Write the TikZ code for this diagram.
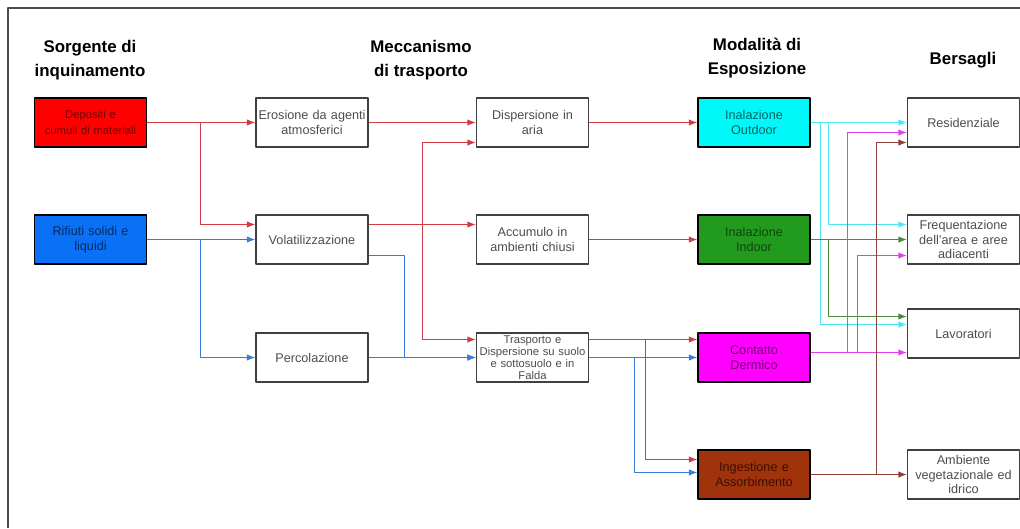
\documentclass[tikz,border=0pt]{standalone}
\usepackage{fontspec}
\setmainfont{Liberation Sans}
\usetikzlibrary{arrows.meta,calc}
\definecolor{rosso}{HTML}{FF0000}
\definecolor{blu}{HTML}{0A70F5}
\definecolor{ciano}{HTML}{00F8F8}
\definecolor{verde}{HTML}{229A1E}
\definecolor{magenta2}{HTML}{FF00FF}
\definecolor{marrone}{HTML}{A0320C}
\definecolor{lrosso}{HTML}{D23A44}
\definecolor{lblu}{HTML}{3A7AD8}
\definecolor{lciano}{HTML}{50E4F4}
\definecolor{lverde}{HTML}{4A8A3A}
\definecolor{lmagenta}{HTML}{E040E8}
\definecolor{lmarrone}{HTML}{8C4038}
\begin{document}
\begin{tikzpicture}[x=0.025cm,y=-0.025cm,>={Latex[length=6pt,width=4.5pt]},line join=round,
	box/.style={draw=black!75,line width=0.8pt,minimum width=2.8cm,minimum height=1.225cm,text width=2.7cm,inner sep=1pt,align=center,font=\fontsize{9}{11}\selectfont,text=black!70},
	header/.style={align=center,font=\fontsize{12}{17}\selectfont\bfseries},
	fr/.style={->,line width=0.8pt,color=lrosso},
	fb/.style={->,line width=0.8pt,color=lblu},
	fc/.style={->,line width=0.8pt,color=lciano},
	fv/.style={->,line width=0.8pt,color=lverde},
	fm/.style={->,line width=0.8pt,color=lmagenta},
	fn/.style={->,line width=0.8pt,color=lmarrone}]
	\useasboundingbox (0,0) rectangle (1020,528);
	% cornice
	\draw[black!70,line width=1.5pt] (8,528)--(8,8)--(1020,8);
	% titoli delle colonne
	\node[header] (h1) at (90,60) {Sorgente di\\inquinamento};
	\node[header] (h2) at (421,60) {Meccanismo\\di trasporto};
	\node[header] (h3) at (757,58) {Modalità di\\Esposizione};
	\node[header] (h4) at (963,60) {Bersagli};
	% sorgenti
	\node[box,fill=rosso,text=rosso!45!black,draw=black,font=\fontsize{8}{11}\selectfont] (src1) at (90.5,122.5) {Depositi e\\cumuli di materiali};
	\node[box,fill=blu,text=blu!40!black,draw=black] (src2) at (90.5,239.5) {Rifiuti solidi e\\liquidi};
	% meccanismi di trasporto
	\node[box] (eros) at (312,122.5) {Erosione da agenti\\atmosferici};
	\node[box] (vol) at (312,239.5) {Volatilizzazione};
	\node[box] (perc) at (312,357.5) {Percolazione};
	\node[box] (disp) at (532.5,122.5) {Dispersione in\\aria};
	\node[box] (acc) at (532.5,239.5) {Accumulo in\\ambienti chiusi};
	\node[box,font=\fontsize{8}{8.6}\selectfont] (trasp) at (532.5,357.5) {Trasporto e\\Dispersione su suolo\\e sottosuolo e in\\Falda};
	% modalita di esposizione
	\node[box,fill=ciano,text=ciano!40!black,draw=black] (outd) at (754,122.5) {Inalazione\\Outdoor};
	\node[box,fill=verde,text=verde!45!black,draw=black] (ind) at (754,239.5) {Inalazione\\Indoor};
	\node[box,fill=magenta2,text=magenta2!45!black,draw=black] (derm) at (754,357.5) {Contatto\\Dermico};
	\node[box,fill=marrone,text=marrone!35!black,draw=black] (ing) at (754,474.5) {Ingestione e\\Assorbimento};
	% bersagli
	\node[box,font=\fontsize{9}{10}\selectfont] (res) at (963.5,122.5) {Residenziale};
	\node[box,font=\fontsize{9}{10}\selectfont] (freq) at (963.5,239.5) {Frequentazione\\dell'area e aree\\adiacenti};
	\node[box,font=\fontsize{9}{10}\selectfont] (lav) at (963.5,333.5) {Lavoratori};
	\node[box,font=\fontsize{9}{10}\selectfont] (amb) at (963.5,474.5) {Ambiente\\vegetazionale ed\\idrico};
	% dalle sorgenti
	\draw[fr] (src1.east) -- (eros.west);
	\draw[fr] (src1.east) -- ++(53,0) |- ($(vol.west)+(0,-15)$);
	\draw[fb] (src2.east) -- (vol.west);
	\draw[fb] (src2.east) -- ++(53,0) |- (perc.west);
	% trasporto
	\draw[fr] (eros.east) -- (disp.west);
	\draw[fr] ($(vol.east)+(0,-15)$) -- ($(acc.west)+(0,-15)$);
	\draw[fr] ($(vol.east)+(0,-15)$) -- ++(54,0) |- ($(disp.west)+(0,20)$);
	\draw[fr] ($(vol.east)+(0,-15)$) -- ++(54,0) |- ($(trasp.west)+(0,-18)$);
	\draw[fb] ($(vol.east)+(0,16)$) -- ++(36,0) |- (trasp.west);
	\draw[fb] (perc.east) -- (trasp.west);
	\draw[fr] (disp.east) -- (outd.west);
	\draw[fr] (acc.east) -- (ind.west);
	\draw[fr] ($(trasp.east)+(0,-18)$) -- ($(derm.west)+(0,-18)$);
	\draw[fb] (trasp.east) -- (derm.west);
	\draw[fr] ($(trasp.east)+(0,-18)$) -- ++(56,0) |- ($(ing.west)+(0,-15)$);
	\draw[fb] (trasp.east) -- ++(45,0) |- ($(ing.west)+(0,-2)$);
	% verso i bersagli
	\draw[fc] (outd.east) -- (res.west);
	\draw[fc] (outd.east) -- ++(18,0) |- ($(freq.west)+(0,-15)$);
	\draw[fc] (outd.east) -- ++(10,0) |- ($(lav.west)+(0,-9)$);
	\draw[fv] (ind.east) -- (freq.west);
	\draw[fv] (ind.east) -- ++(18,0) |- ($(lav.west)+(0,-17)$);
	\draw[fm] ($(derm.east)+(0,-5)$) -- ($(lav.west)+(0,19)$);
	\draw[fm] ($(derm.east)+(0,-5)$) -- ++(37,0) |- ($(res.west)+(0,10)$);
	\draw[fm] ($(derm.east)+(0,-5)$) -- ++(47,0) |- ($(freq.west)+(0,16)$);
	\draw[fn] (ing.east) -- (amb.west);
	\draw[fn] (ing.east) -- ++(66,0) |- ($(res.west)+(0,20)$);
\end{tikzpicture}
\end{document}
